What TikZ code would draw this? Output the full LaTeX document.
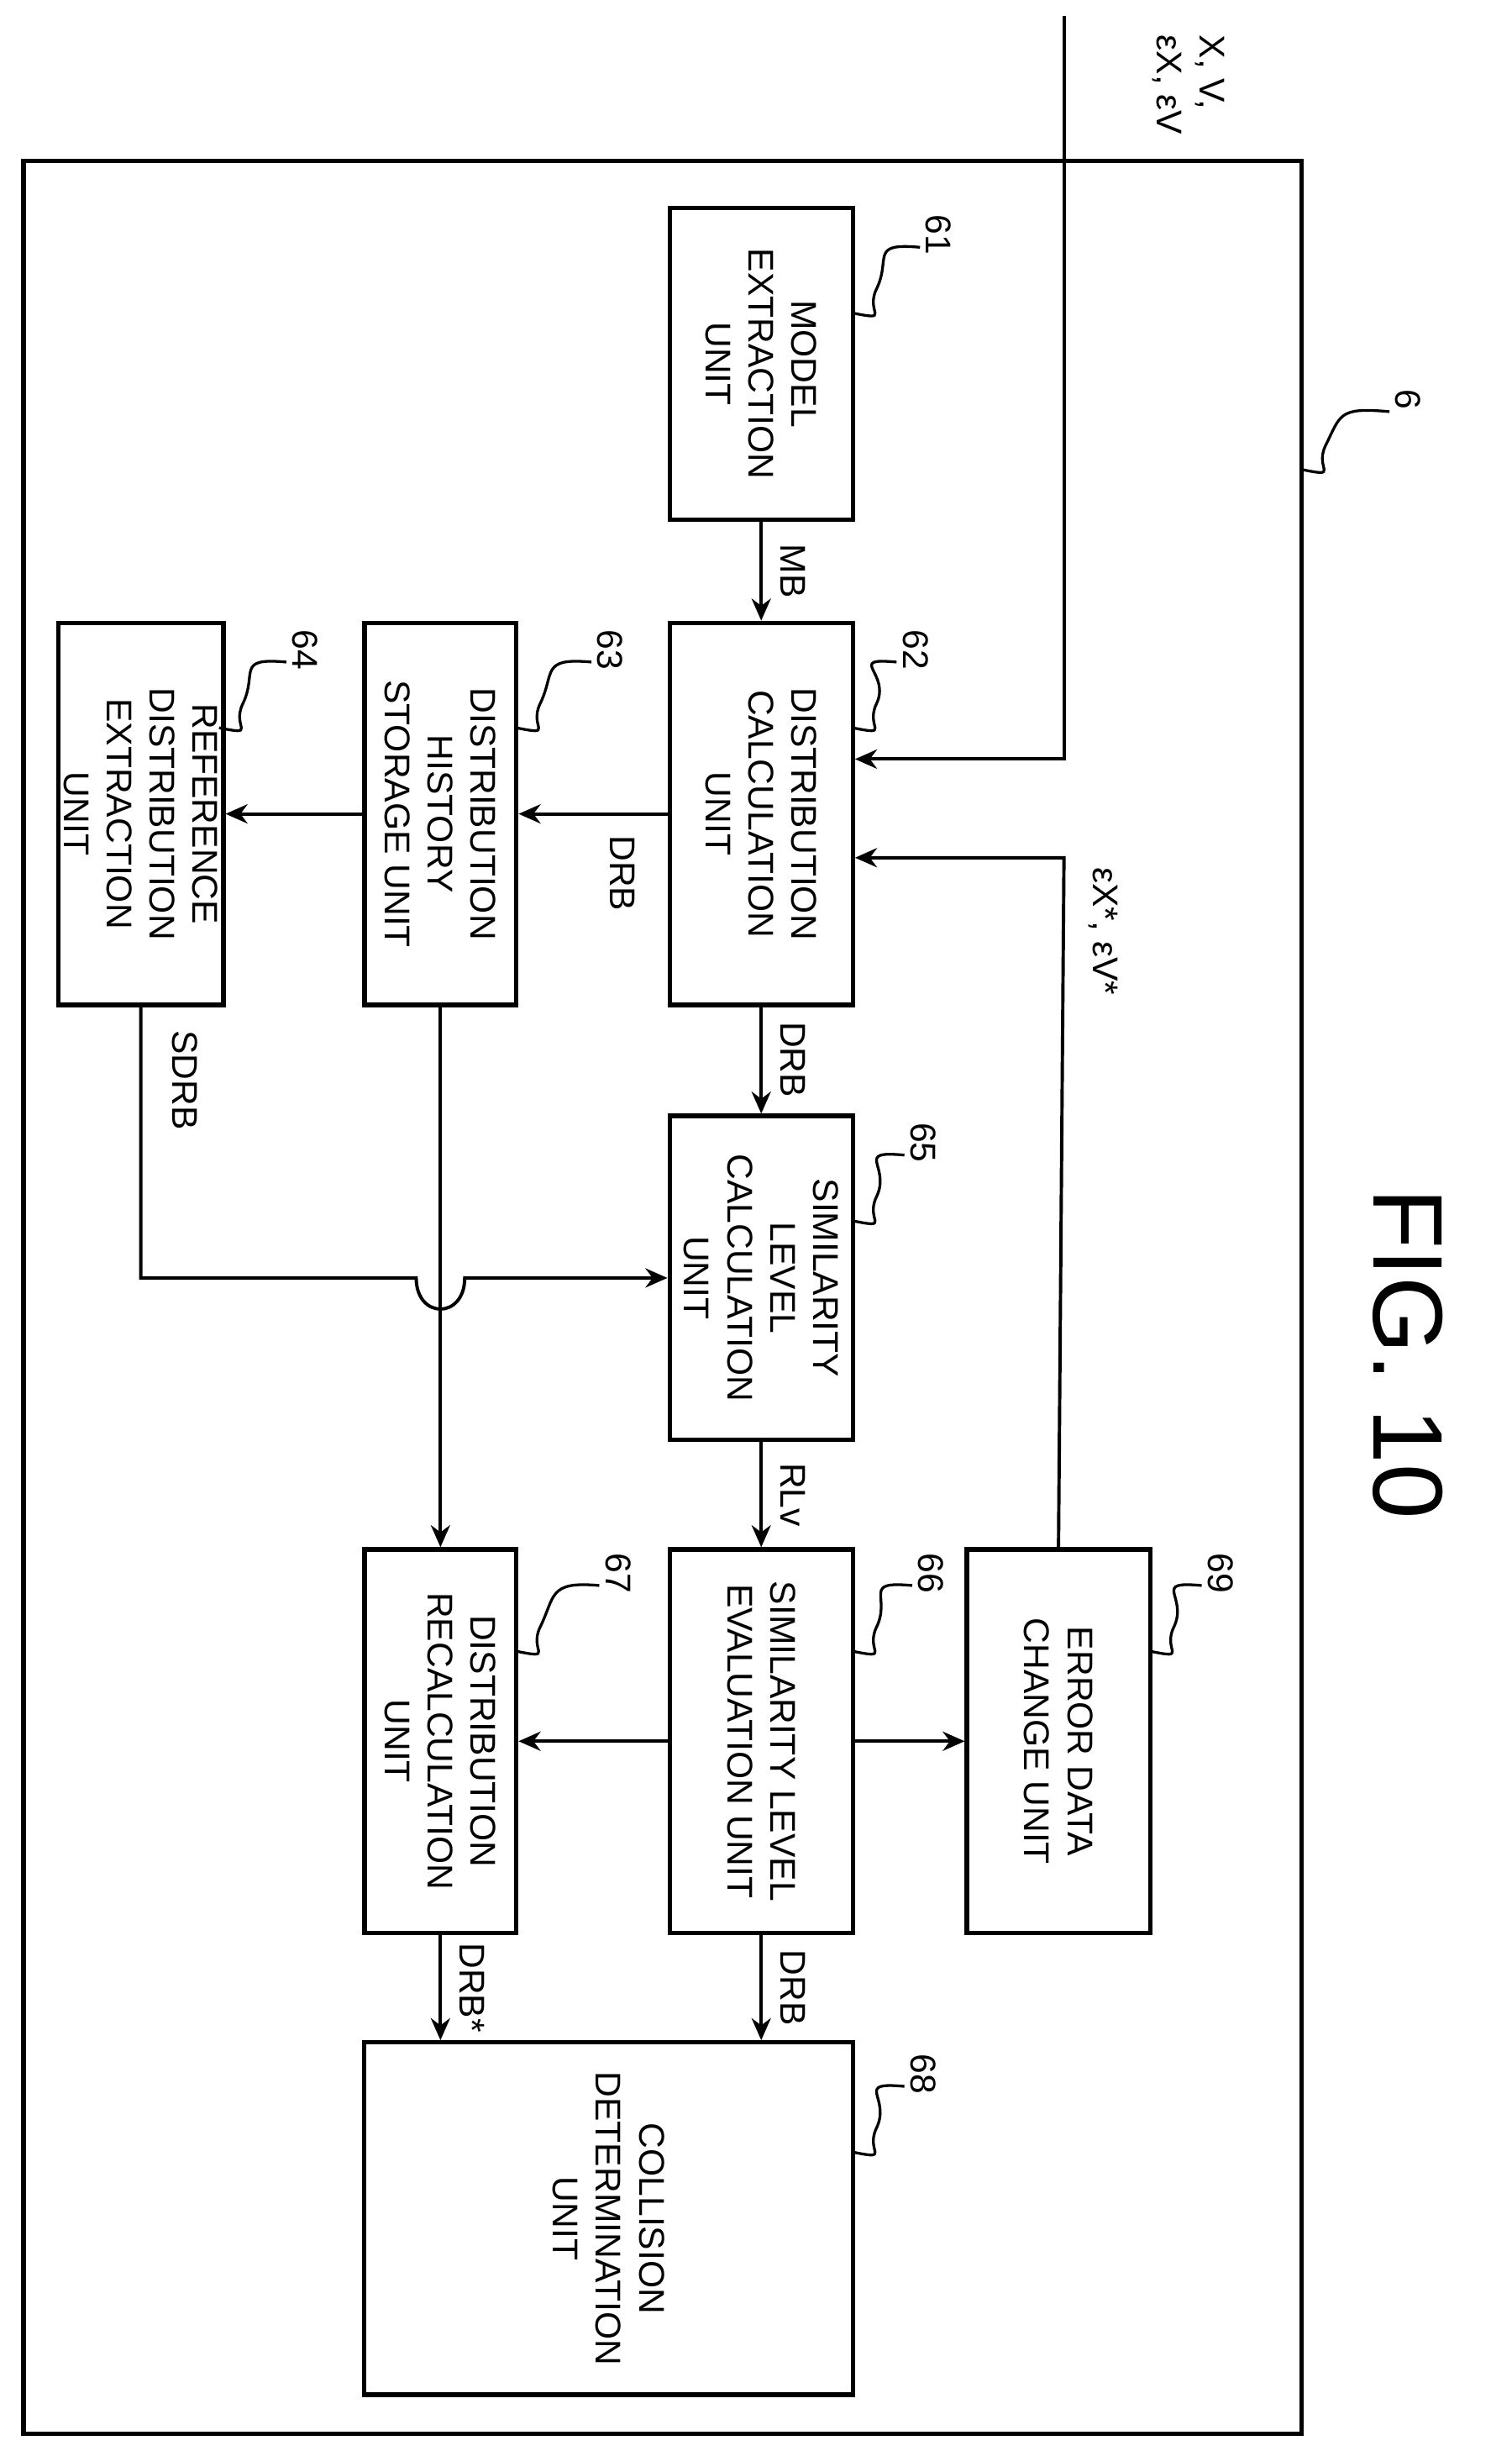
\documentclass[tikz,border=0pt]{standalone}
\usepackage{fontspec}
\setmainfont{Liberation Sans}
\usetikzlibrary{arrows.meta}
\usetikzlibrary{positioning}
\begin{document}
\begin{tikzpicture}[x=0.01cm,y=-0.01cm]
	\tikzset{unit/.style = {draw, line width=0.8pt, rotate=-90, align=center,
			inner sep=1pt, font=\fontsize{6.5}{7.8}\selectfont}}
	\tikzset{edge/.style = {-{Stealth[length=4pt,width=3.5pt]}, line width=0.6pt}}
	\tikzset{lbl/.style = {rotate=-90, font=\fontsize{6.5}{7.8}\selectfont}}
	\tikzset{wave/.style = {line width=0.5pt}}
	\useasboundingbox (0,0) rectangle (966,1566);
	
	% frame
	\draw[line width=0.8pt] (15,103) rectangle (832,1555);
	
	% units
	\node[unit, minimum width=1.99cm, minimum height=1.17cm] (m61) at (486.5,232.5) {MODEL\\EXTRACTION\\UNIT};
	\node[unit, minimum width=2.44cm, minimum height=1.17cm] (m62) at (486.5,520) {DISTRIBUTION\\CALCULATION\\UNIT};
	\node[unit, minimum width=2.44cm, minimum height=0.97cm] (m63) at (281.5,520) {DISTRIBUTION\\HISTORY\\STORAGE UNIT};
	\node[unit, minimum width=2.44cm, minimum height=1.00cm] (m64) at (90,520) {REFERENCE\\DISTRIBUTION\\EXTRACTION\\UNIT};
	\node[unit, minimum width=2.07cm, minimum height=1.17cm] (m65) at (486.5,816.5) {SIMILARITY\\LEVEL\\CALCULATION\\UNIT};
	\node[unit, minimum width=2.45cm, minimum height=1.17cm] (m66) at (486.5,1112.5) {SIMILARITY LEVEL\\EVALUATION UNIT};
	\node[unit, minimum width=2.45cm, minimum height=1.17cm] (m69) at (676.5,1112.5) {ERROR DATA\\CHANGE UNIT};
	\node[unit, minimum width=2.45cm, minimum height=0.97cm] (m67) at (281.5,1112.5) {DISTRIBUTION\\RECALCULATION\\UNIT};
	\node[unit, minimum width=2.25cm, minimum height=3.12cm] (m68) at (389,1417.5) {COLLISION\\DETERMINATION\\UNIT};
	
	% input line
	\coordinate (in) at (680,10);
	\coordinate (inC) at (680,485);
	\draw[edge] (in) -- (inC) -- (m62.north |- inC);
	\node[lbl, align=left, anchor=north west] at (795,10) {X, V,\\εX, εV};
	
	% edges
	\draw[edge] (m61.east) -- (m62.west);
	\node[lbl] at (507,365) {MB};
	\draw[edge] (m69.west) -- (680,548) -- (m62.north |- 0,548);
	\node[lbl] at (705,595) {εX*, εV*};
	\draw[edge] (m62.south) -- (m63.north);
	\node[lbl] at (398,558) {DRB};
	\draw[edge] (m63.south) -- (m64.north);
	\draw[edge] (m62.east) -- (m65.west);
	\node[lbl] at (507,677) {DRB};
	\draw[edge] (m64.east) -- (m64.east |- m65.south) -- (266,816.5) .. controls (266,843) and (297,843) .. (297,816.5) -- (m65.south);
	\node[lbl] at (118,690) {SDRB};
	\draw[edge] (m63.east) -- (m67.west);
	\draw[edge] (m65.east) -- (m66.west);
	\node[lbl] at (507,955) {RLv};
	\draw[edge] (m66.north) -- (m69.south);
	\draw[edge] (m66.south) -- (m67.north);
	\draw[edge] (m66.east) -- (m66.east |- m68.west);
	\node[lbl] at (507,1270) {DRB};
	\draw[edge] (m67.east) -- (m67.east |- m68.west);
	\node[lbl] at (302,1270) {DRB*};
	
	% reference numerals
	\foreach \n/\lx/\ly/\ex/\ey in {61/600/150/545/200, 62/585/415/545/465, 63/390/415/330/465,
		64/195/415/140/465, 65/590/730/545/780, 66/595/1005/545/1055, 67/395/1005/330/1055,
		68/590/1325/545/1375, 69/780/1005/735/1055, 6/900/255/832/300}{
		\node[lbl] (r\n) at (\lx,\ly) {\n};
		\draw[wave] (\lx-12,\ly+8) .. controls (\lx-45,\ly+5) and (\ex+25,\ey-35) .. (\ex+15,\ey-15)
			.. controls (\ex+8,\ey) and (\ex+25,\ey+5) .. (\ex,\ey);
	}
	
	\node[rotate=-90, font=\fontsize{18}{20}\selectfont] (fig) at (900,865) {FIG. 10};
\end{tikzpicture}
\end{document}
